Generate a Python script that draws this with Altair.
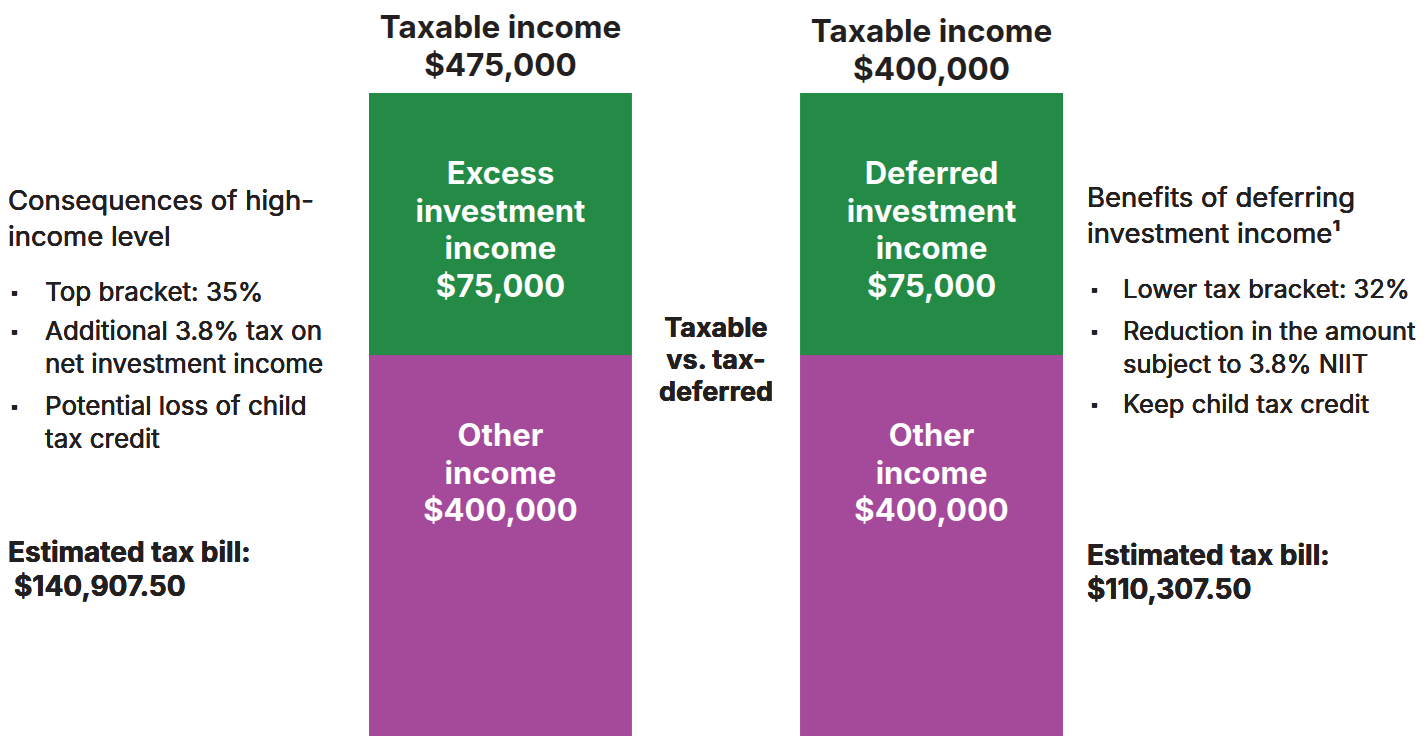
import altair as alt
import pandas as pd

# ---- data ----
columns = ["Taxable", "Tax-deferred"]
other_income = [400000, 400000]
investment_income = [75000, 75000]
investment_labels = ["Excess\ninvestment\nincome\n$75,000", "Deferred\ninvestment\nincome\n$75,000"]
other_labels = ["Other\nincome\n$400,000", "Other\nincome\n$400,000"]
title_labels = ["Taxable income\n$475,000", "Taxable income\n$400,000"]

left_heading = ["Consequences of high-", "income level"]
left_bullets = [["Top bracket: 35%"], ["Additional 3.8% tax on", "net investment income"], ["Potential loss of  child", "tax credit"]]
left_tax = ["Estimated tax bill:", "$140,907.50"]
right_heading = ["Benefits of deferring", "investment income\u00b9"]
right_bullets = [["Lower tax bracket: 32%"], ["Reduction in the amount", "subject to 3.8% NIIT"], ["Keep child tax credit"]]
right_tax = ["Estimated tax bill:", "$110,307.50"]
middle_label = ["Taxable", "vs. tax-", "deferred"]

GREEN = "#238B45"
PURPLE = "#A54A9B"
DARK = "#231F20"
FONT = "Inter"

rows = []
for c, o, i, il, ol in zip(columns, other_income, investment_income, investment_labels, other_labels):
    rows.append({"col": c, "seg": "Other", "start": 0, "end": o, "label": ol})
    rows.append({"col": c, "seg": "Investment", "start": o, "end": o + i, "label": il})
df = pd.DataFrame(rows)
tdf = pd.DataFrame({"col": columns, "title": title_labels})

W, H = 1408, 728
xscale = alt.Scale(domain=columns, range=[361, 1055], paddingInner=0.39, paddingOuter=0)
yscale = alt.Scale(domain=[0, 400000, 475000], range=[H, 347, 85], nice=False, zero=False)

base = alt.Chart(df)
bars = base.mark_bar().encode(
    x=alt.X("col:N", scale=xscale, axis=None, sort=columns),
    y=alt.Y("end:Q", scale=yscale, axis=None),
    y2="start:Q",
    color=alt.Color("seg:N", scale=alt.Scale(domain=["Investment", "Other"], range=[GREEN, PURPLE]), legend=None),
)
bar_labels = base.mark_text(
    font=FONT, fontSize=31, fontWeight="bold", color="white", lineBreak="\n",
    lineHeight=37.5, baseline="middle", dy=82,
).encode(
    x=alt.X("col:N", scale=xscale, axis=None, sort=columns),
    y=alt.Y("end:Q", scale=yscale, axis=None),
    text="label:N",
)

titles = []
for c, yv in zip(columns, [21, 25]):
    titles.append(
        alt.Chart(tdf[tdf.col == c]).mark_text(
            font=FONT, fontSize=31.5, fontWeight="bold", color=DARK, lineBreak="\n",
            lineHeight=38, baseline="middle",
        ).encode(
            x=alt.X("col:N", scale=xscale, axis=None, sort=columns),
            y=alt.value(yv),
            text="title:N",
        )
    )


def txt(lines, x, y, size, weight="normal", lh=None, align="left"):
    return alt.Chart(df).mark_text(
        font=FONT, fontSize=size, fontWeight=weight, color=DARK, align=align,
        baseline="middle", lineHeight=lh if lh else size * 1.3, text=lines,
    ).encode(x=alt.value(x), y=alt.value(y))


anno = []
anno.append(txt(left_heading, 0, 194, 27.5, lh=36))
for item, yv in zip(left_bullets, [285, 324, 399]):
    anno.append(txt(["\u25aa"], 2, yv, 16))
    anno.append(txt(item, 37, yv, 26, lh=33))
anno.append(txt([left_tax[0]], 0, 546, 28, "bold"))
anno.append(txt([left_tax[1]], 6, 580, 28, "bold"))

anno.append(txt(right_heading, 1079, 191, 27.5, lh=36))
for item, yv in zip(right_bullets, [282, 324, 397]):
    anno.append(txt(["\u25aa"], 1082, yv, 16))
    anno.append(txt(item, 1115, yv, 25.5, lh=33))
anno.append(txt(right_tax, 1079, 549, 28, "bold", lh=34))

anno.append(txt(middle_label, 708, 321, 27, "bold", lh=32, align="center"))

chart = alt.layer(bars, bar_labels, *titles, *anno).properties(
    width=W, height=H, autosize=alt.AutoSizeParams(type="none"), padding=0,
).configure(background="white").configure_view(stroke=None)

chart.save("out.html", embed_options={"renderer": "svg", "actions": False})
